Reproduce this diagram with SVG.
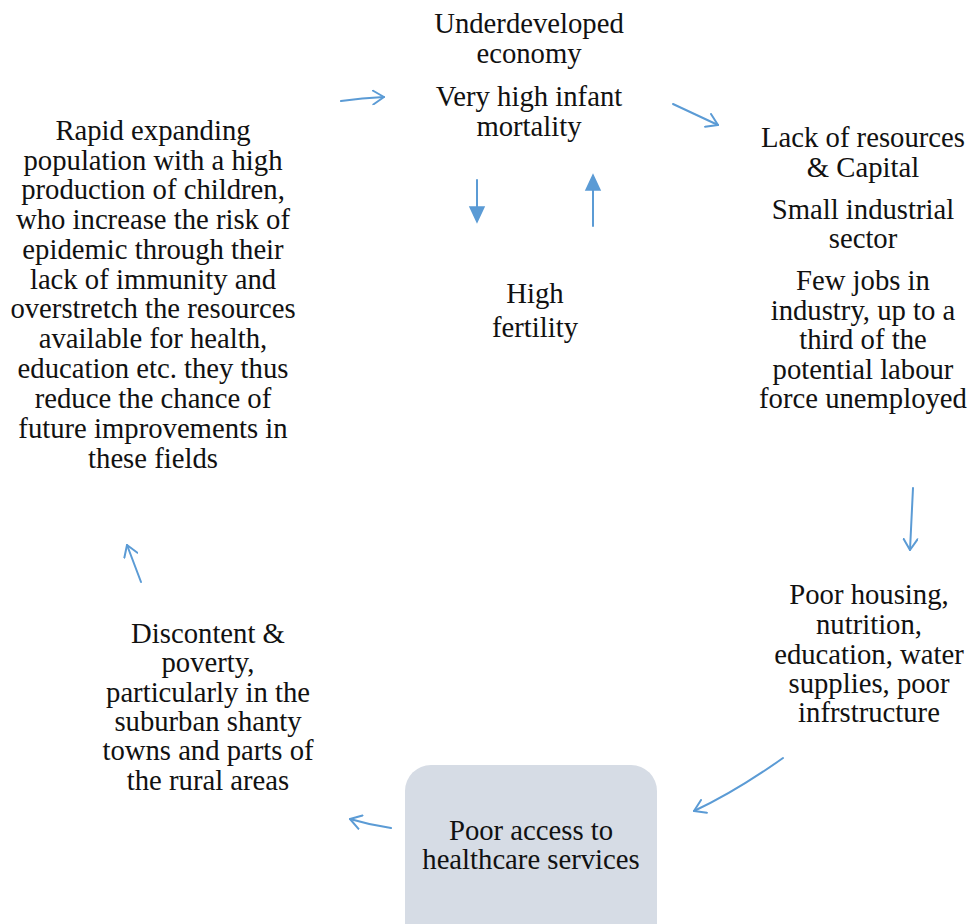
<svg xmlns="http://www.w3.org/2000/svg" width="969" height="924" viewBox="0 0 969 924">
  <style>
    text { font-family: 'Liberation Serif', 'DejaVu Serif', 'Times New Roman', serif; font-size: 28.7px; fill: #111; text-anchor: middle; }
    .c { fill: none; stroke: #5b9bd5; stroke-width: 2; stroke-linecap: round; stroke-linejoin: round; }
    .h { fill: #5b9bd5; stroke: #5b9bd5; stroke-width: 1.5; }
  </style>
  <defs>
    <marker id="open" markerWidth="16" markerHeight="16" refX="12" refY="8" orient="auto" markerUnits="userSpaceOnUse">
      <path d="M1,1 L12,8 L1,15" fill="none" stroke="#5b9bd5" stroke-width="2" stroke-linecap="round" stroke-linejoin="round"/>
    </marker>
  </defs>
  <rect width="969" height="924" fill="#ffffff"/>

  <g id="connectors">
    <path class="c" d="M341,101 Q362,98 384,97" marker-end="url(#open)"/>
    <path class="c" d="M673,104 L718,125" marker-end="url(#open)"/>
    <path class="c" d="M477,180 L477,208"/>
    <polygon class="h" points="470,207 484,207 477,222"/>
    <path class="c" d="M593,226 L593,190"/>
    <polygon class="h" points="586,190 600,190 593,175"/>
    <path class="c" d="M913,488 L910,550" marker-end="url(#open)"/>
    <path class="c" d="M783,758 Q735,792 694,811" marker-end="url(#open)"/>
    <path class="c" d="M391,828 Q370,825 350,819" marker-end="url(#open)"/>
    <path class="c" d="M141,582 L127,545" marker-end="url(#open)"/>
  </g>

  <g id="node-top">
    <text x="529" y="33">Underdeveloped</text>
    <text x="529" y="63">economy</text>
    <text x="529" y="106">Very high infant</text>
    <text x="529" y="136">mortality</text>
  </g>

  <g id="node-fertility">
    <text x="535" y="303">High</text>
    <text x="535" y="337">fertility</text>
  </g>

  <g id="node-resources">
    <text x="863" y="147">Lack of resources</text>
    <text x="863" y="177">&amp; Capital</text>
    <text x="863" y="219">Small industrial</text>
    <text x="863" y="248">sector</text>
    <text x="863" y="290">Few jobs in</text>
    <text x="863" y="320">industry, up to a</text>
    <text x="863" y="349">third of the</text>
    <text x="863" y="379">potential labour</text>
    <text x="863" y="408">force unemployed</text>
  </g>

  <g id="node-housing">
    <text x="869" y="604">Poor housing,</text>
    <text x="869" y="634">nutrition,</text>
    <text x="869" y="664">education, water</text>
    <text x="869" y="693">supplies, poor</text>
    <text x="869" y="722">infrstructure</text>
  </g>

  <g id="node-healthcare">
    <rect x="405" y="765" width="252" height="190" rx="26" fill="#d6dce5"/>
    <text x="531" y="840">Poor access to</text>
    <text x="531" y="869">healthcare services</text>
  </g>

  <g id="node-discontent">
    <text x="208" y="643">Discontent &amp;</text>
    <text x="208" y="672">poverty,</text>
    <text x="208" y="702">particularly in the</text>
    <text x="208" y="731">suburban shanty</text>
    <text x="208" y="760">towns and parts of</text>
    <text x="208" y="790">the rural areas</text>
  </g>

  <g id="node-population">
    <text x="153" y="140">Rapid expanding</text>
    <text x="153" y="170">population with a high</text>
    <text x="153" y="199">production of children,</text>
    <text x="153" y="229">who increase the risk of</text>
    <text x="153" y="259">epidemic through their</text>
    <text x="153" y="289">lack of immunity and</text>
    <text x="153" y="318">overstretch the resources</text>
    <text x="153" y="348">available for health,</text>
    <text x="153" y="378">education etc. they thus</text>
    <text x="153" y="408">reduce the chance of</text>
    <text x="153" y="438">future improvements in</text>
    <text x="153" y="468">these fields</text>
  </g>
</svg>
